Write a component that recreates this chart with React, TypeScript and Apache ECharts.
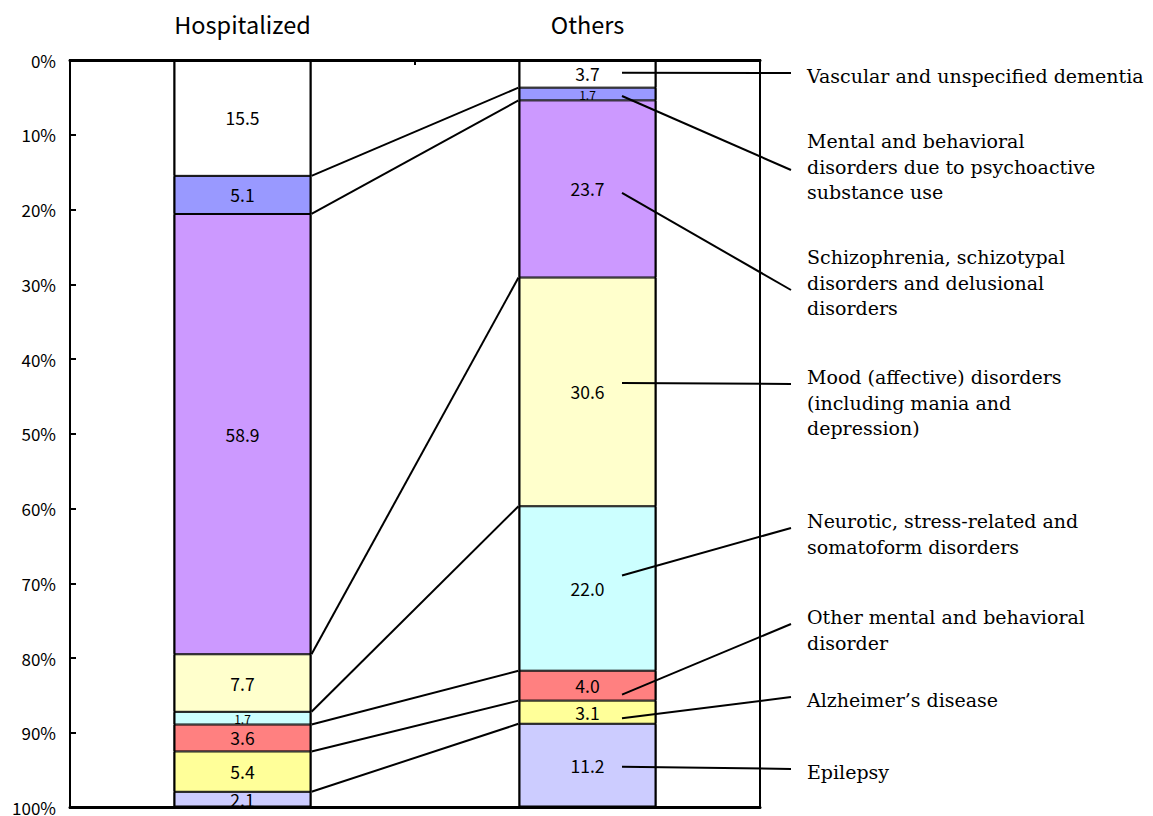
import React, { useEffect, useRef } from "react";
import * as echarts from "echarts";

const categories = ["Hospitalized", "Others"];

const diseases = [
  "Vascular and unspecified dementia",
  "Mental and behavioral disorders due to psychoactive substance use",
  "Schizophrenia, schizotypal disorders and delusional disorders",
  "Mood (affective) disorders (including mania and depression)",
  "Neurotic, stress-related and somatoform disorders",
  "Other mental and behavioral disorder",
  "Alzheimer’s disease",
  "Epilepsy",
];

const legendLines = [
  ["Vascular and unspecified dementia"],
  ["Mental and behavioral", "disorders due to psychoactive", "substance use"],
  ["Schizophrenia, schizotypal", "disorders and delusional", "disorders"],
  ["Mood (affective) disorders", "(including mania and", "depression)"],
  ["Neurotic, stress-related and", "somatoform disorders"],
  ["Other mental and behavioral", "disorder"],
  ["Alzheimer’s disease"],
  ["Epilepsy"],
];

const hospitalized = [15.5, 5.1, 58.9, 7.7, 1.7, 3.6, 5.4, 2.1];
const others = [3.7, 1.7, 23.7, 30.6, 22.0, 4.0, 3.1, 11.2];

const colors = [
  "#FFFFFF",
  "#9999FF",
  "#CC99FF",
  "#FFFFCC",
  "#CCFFFF",
  "#FF8080",
  "#FFFF99",
  "#CCCCFF",
];

// annotation layout (pixels)
const textFirstLineY = [76, 141, 257, 377, 521, 617, 700, 772];
const leaderEndY = [73, 170, 290, 384, 528, 624, 697, 769];
const leaderStartOffset = [-1, 2, 4, -9, -13, 9, 6, 1];

const SANS = "'Noto Sans CJK JP', 'Noto Sans', sans-serif";
const SERIF = "'DejaVu Serif', serif";

function cumulative(arr: number[]): number[] {
  const out: number[] = [];
  let s = 0;
  for (const v of arr) {
    s += v;
    out.push(Math.round(s * 10) / 10);
  }
  return out;
}

export default function App() {
  const ref = useRef<HTMLDivElement>(null);

  useEffect(() => {
    if (!ref.current) return;
    const chart = echarts.init(ref.current, null, { renderer: "svg" });

    const hospCum = cumulative(hospitalized);
    const othCum = cumulative(others);

    const connectors = [];
    for (let i = 0; i < hospCum.length - 1; i++) {
      connectors.push({
        coords: [
          [0.7, hospCum[i]],
          [1.3, othCum[i]],
        ],
      });
    }

    const barSeries = diseases.map((name, i) => ({
      name,
      type: "bar",
      stack: "total",
      barWidth: "40%",
      itemStyle: { color: colors[i], borderColor: "#000", borderWidth: 1 },
      label: {
        show: true,
        position: "inside",
        color: "#000",
        fontFamily: SANS,
        fontSize: 17.5,
        formatter: (p: any) => Number(p.value).toFixed(1),
      },
      data: [hospitalized[i], others[i]].map((v) =>
        v < 2
          ? { value: v, label: { fontSize: 12, lineHeight: 11 } }
          : { value: v }
      ),
    }));

    const frameSeries = {
      name: "frame",
      type: "bar",
      barWidth: "40%",
      barGap: "-100%",
      silent: true,
      z: 3,
      itemStyle: { color: "rgba(0,0,0,0)", borderColor: "#000", borderWidth: 2 },
      label: { show: false },
      data: [
        hospitalized.reduce((a, b) => a + b, 0),
        others.reduce((a, b) => a + b, 0),
      ],
    };

    const option: any = {
      animation: false,
      backgroundColor: "#fff",
      grid: {
        left: 70,
        top: 60,
        right: 393,
        bottom: 6,
        show: true,
        borderColor: "#000",
        borderWidth: 2,
        containLabel: false,
      },
      xAxis: [
        {
          type: "category",
          position: "top",
          data: categories,
          axisLine: { show: true, lineStyle: { color: "#000", width: 3 } },
          axisTick: { show: true, inside: true, length: 5, lineStyle: { color: "#000", width: 2 } },
          axisLabel: { color: "#000", fontFamily: SANS, fontSize: 23.5, margin: 24 },
          splitLine: { show: false },
        },
        {
          type: "value",
          position: "bottom",
          min: 0,
          max: 2,
          axisLine: { show: true, onZero: false, lineStyle: { color: "#000", width: 3 } },
          axisTick: { show: false },
          axisLabel: { show: false },
          splitLine: { show: false },
        },
      ],
      yAxis: {
        type: "value",
        inverse: true,
        min: 0,
        max: 100,
        interval: 10,
        axisLine: { show: true, lineStyle: { color: "#000", width: 2 } },
        axisTick: { show: true, inside: true, length: 6, lineStyle: { color: "#000", width: 2 } },
        axisLabel: { color: "#000", fontFamily: SANS, fontSize: 17, margin: 14, formatter: "{value}%" },
        splitLine: { show: false },
      },
      series: [
        ...barSeries,
        frameSeries,
        {
          type: "lines",
          coordinateSystem: "cartesian2d",
          xAxisIndex: 1,
          yAxisIndex: 0,
          z: 3,
          lineStyle: { color: "#000", width: 2, opacity: 1 },
          data: connectors,
        },
      ],
    };

    chart.setOption(option);

    const graphics: any[] = [];
    const startX = chart.convertToPixel({ xAxisIndex: 1, yAxisIndex: 0 } as any, [1.6, 0])[0];
    const endX = 791;
    const textX = 807;
    const lineH = 25.5;
    let prev = 0;
    others.forEach((v, i) => {
      const mid = prev + v / 2;
      prev += v;
      const p = chart.convertToPixel({ xAxisIndex: 1, yAxisIndex: 0 } as any, [1.6, mid]);
      const sy = p[1] + leaderStartOffset[i];
      graphics.push({
        type: "line",
        z: 100,
        shape: { x1: startX, y1: sy, x2: endX, y2: leaderEndY[i] },
        style: { stroke: "#000", lineWidth: 2 },
      });
      graphics.push({
        type: "text",
        z: 100,
        x: textX,
        y: textFirstLineY[i] - lineH / 2,
        style: {
          text: legendLines[i].join("\n"),
          font: `19px ${SERIF}`,
          fill: "#000",
          lineHeight: lineH,
          verticalAlign: "top",
          align: "left",
        },
      });
    });
    chart.setOption({ graphic: graphics });

    return () => chart.dispose();
  }, []);

  return (
    <div
      ref={ref}
      style={{ position: "absolute", left: 0, top: 0, width: 1153, height: 816 }}
    />
  );
}
